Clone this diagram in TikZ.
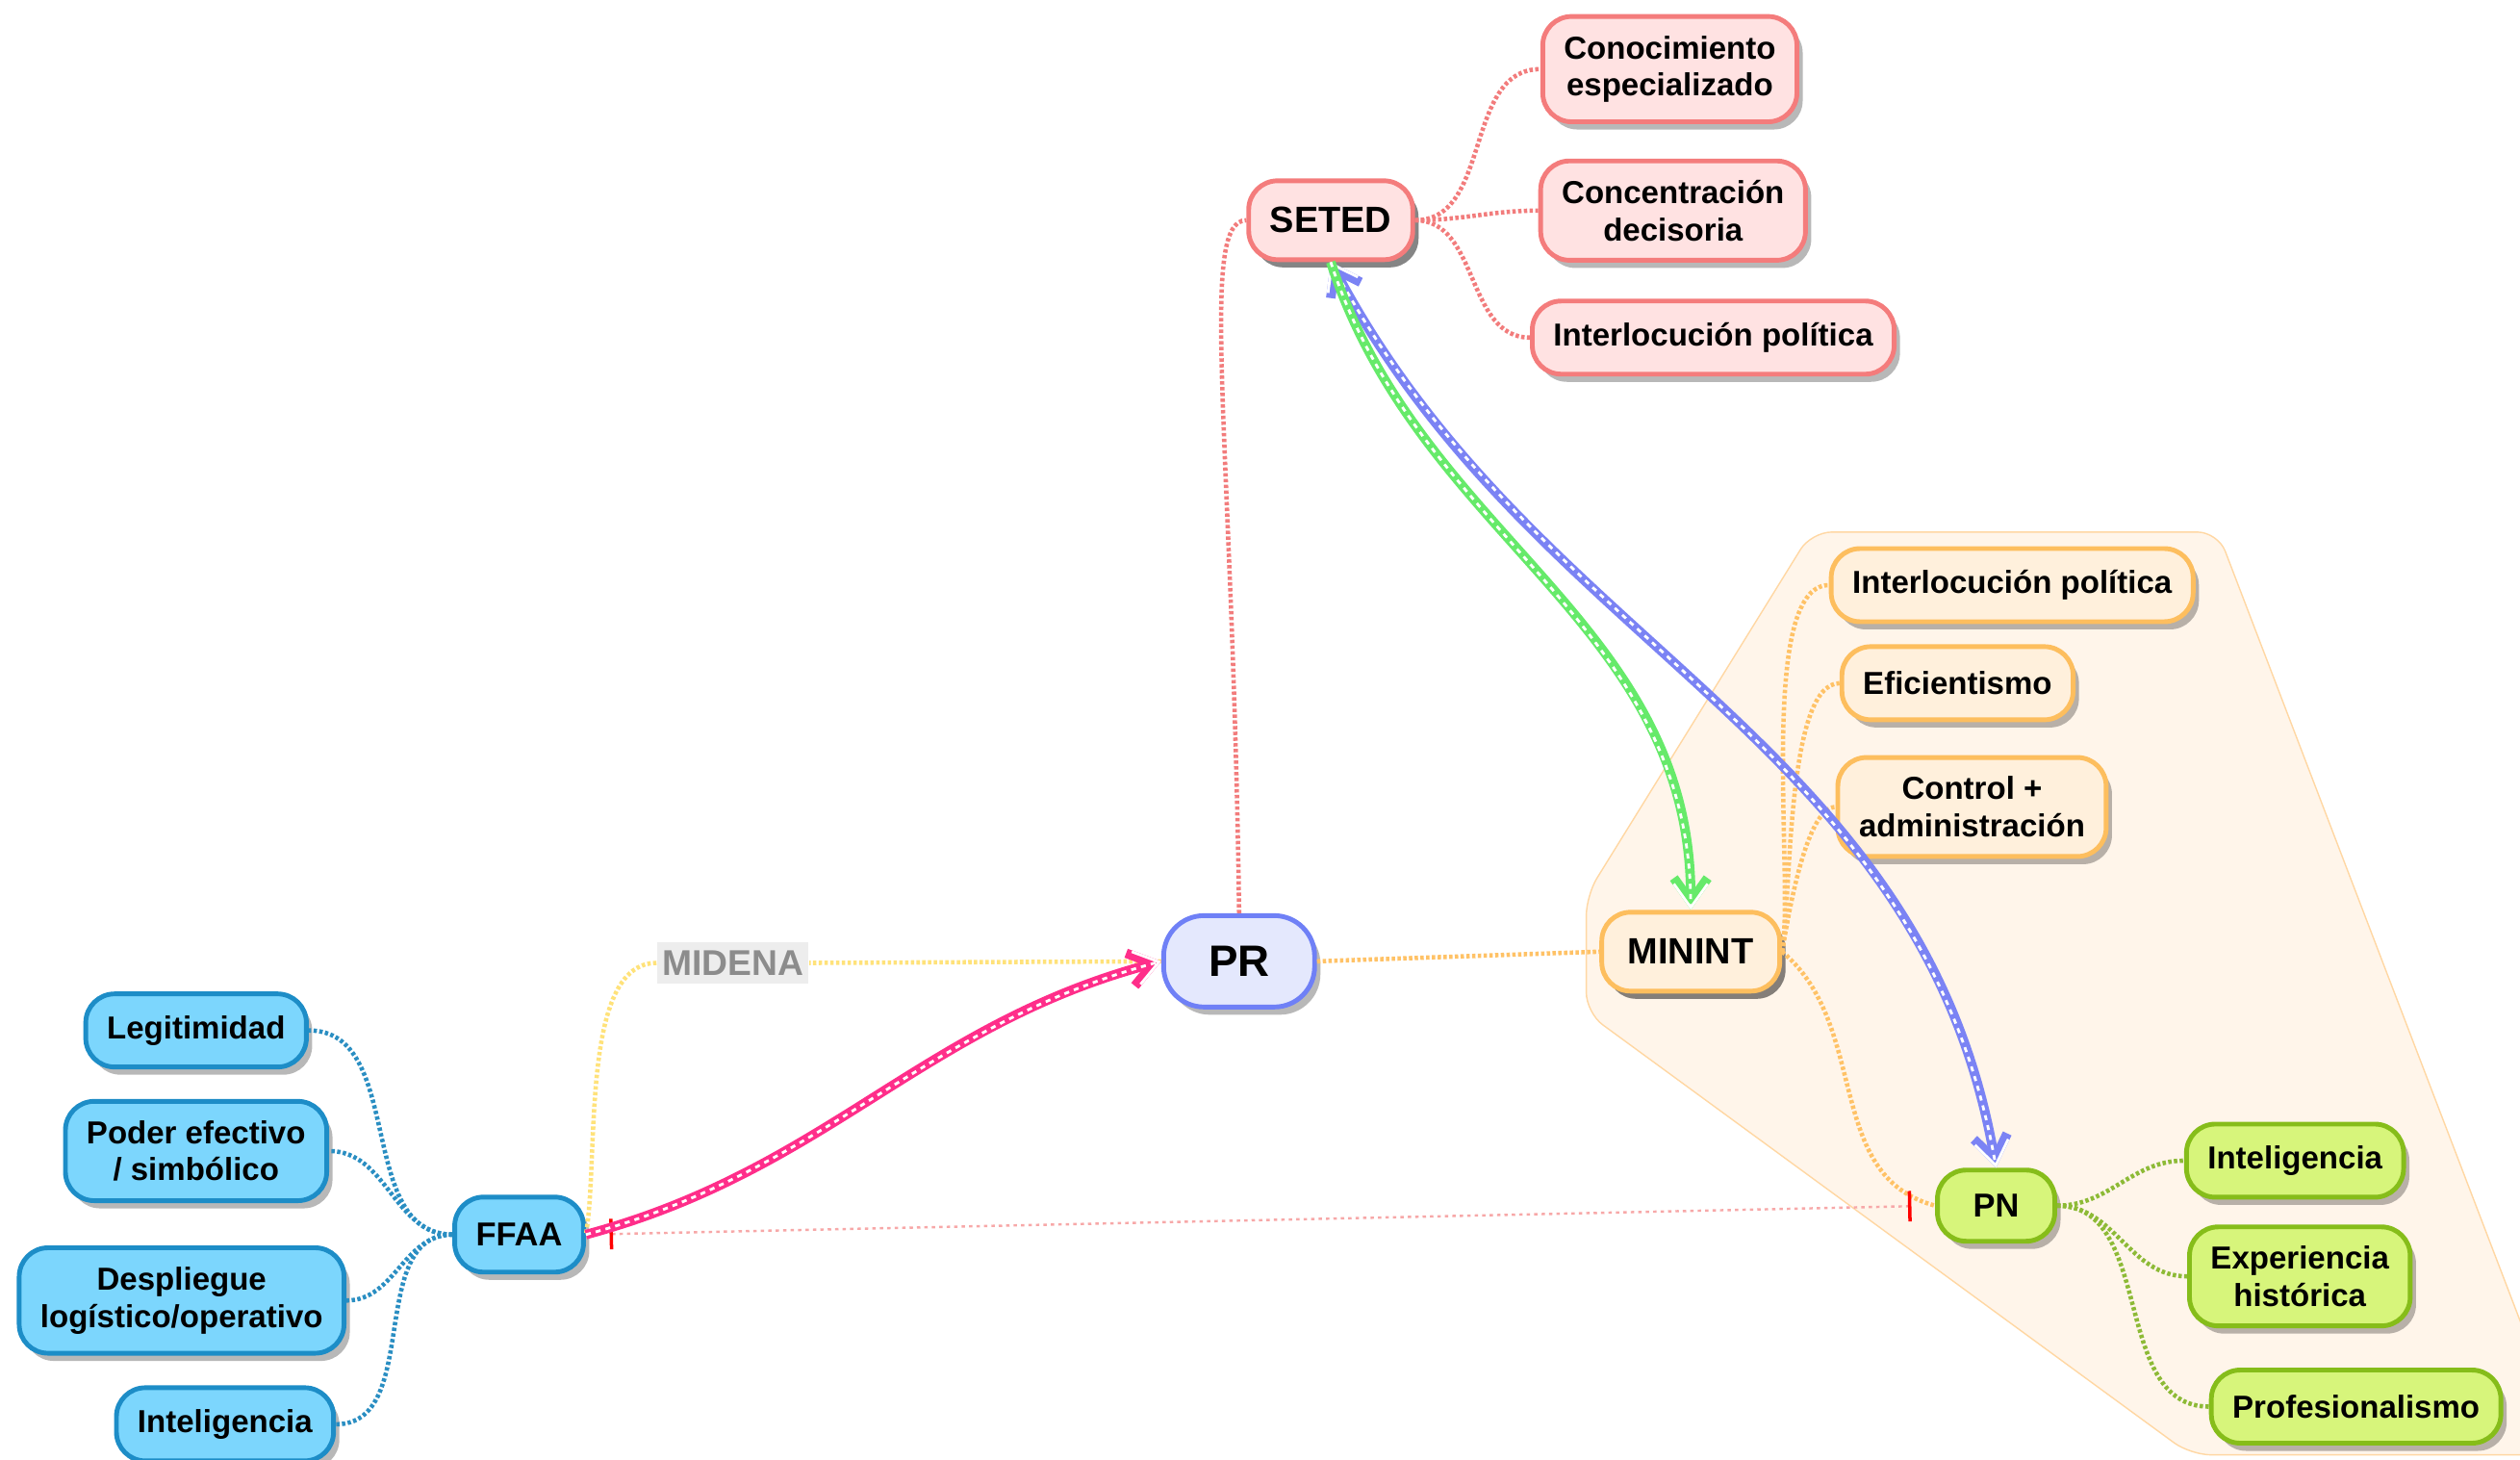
\documentclass[tikz,border=0pt]{standalone}
\usepackage{fontspec}
\setmainfont{Liberation Sans}
\usetikzlibrary{arrows.meta,shadows}
\definecolor{redline}{HTML}{F47C7C}
\definecolor{redfill}{HTML}{FFE2E2}
\definecolor{orangeline}{HTML}{FDBE5E}
\definecolor{orangefill}{HTML}{FFF0DC}
\definecolor{prline}{HTML}{6F80F6}
\definecolor{prfill}{HTML}{E4E8FD}
\definecolor{cyanline}{HTML}{1D8DC7}
\definecolor{cyanfill}{HTML}{7CD6FD}
\definecolor{greenline}{HTML}{86BD1A}
\definecolor{greenfill}{HTML}{D7F57B}
\definecolor{zonefill}{HTML}{FFF5EA}
\definecolor{zoneline}{HTML}{FFD7A3}
\definecolor{midenafill}{HTML}{EDEDED}
\definecolor{midenatext}{HTML}{8C8C8C}
\definecolor{redlink}{HTML}{F27C7C}
\definecolor{orangelink}{HTML}{FFC266}
\definecolor{yellowlink}{HTML}{FFE27A}
\definecolor{bluelink}{HTML}{2A8EC2}
\definecolor{greenlink}{HTML}{8DBA36}
\definecolor{pinkrail}{HTML}{FF2E8A}
\definecolor{greenrail}{HTML}{66EA6A}
\definecolor{bluerail}{HTML}{7B83F4}
\definecolor{tiepink}{HTML}{F7A8A8}
\tikzset{every shadow/.style={fill=black,opacity=0.28,shadow xshift=0.6mm,shadow yshift=-0.8mm}}
\tikzset{
  box/.style={draw,line width=1.4pt,rounded corners=0.3cm,align=center,
    inner xsep=0.22cm,inner ysep=0.2cm,minimum height=0.76cm,
    font=\fontsize{9.4}{11}\selectfont\bfseries,drop shadow},
  topbox/.style={box,minimum height=0.82cm,font=\fontsize{10.8}{13}\selectfont\bfseries},
  redbox/.style={box,draw=redline,fill=redfill},
  orangebox/.style={box,draw=orangeline,fill=orangefill},
  cyanbox/.style={box,draw=cyanline,fill=cyanfill},
  greenbox/.style={box,draw=greenline,fill=greenfill},
  link/.style={line width=1.3pt,dash pattern=on 1pt off 0.7pt},
  rail/.style={line width=2.8pt,postaction={draw=white,line width=0.8pt,dash pattern=on 1.5pt off 1.5pt}},
}
\begin{document}
\begin{tikzpicture}[x=0.016703cm,y=0.016703cm,>={Straight Barb[length=7pt,width=10pt]}]
\useasboundingbox (0,0) rectangle (1568,-908);
% zona MININT / PN
\begin{scope}
\clip (0,0) rectangle (1568,-908);
\filldraw[draw=zoneline,fill=zonefill,rounded corners=6pt] (987,-557) -- (1127,-331) -- (1380,-331) -- (1600,-905) -- (1363,-905) -- (987,-630) -- cycle;
\end{scope}
%
\node (seted) [redbox,topbox] at (828,-137) {SETED};
\node (conoc) [redbox] at (1039,-43) {Conocimiento\\especializado};
\node (conce) [redbox] at (1041,-131) {Concentración\\decisoria};
\node (interA) [redbox] at (1066,-210) {Interlocución política};
%
\node (pr) [box,draw=prline,fill=prfill,minimum width=1.57cm,minimum height=0.95cm,rounded corners=0.42cm,font=\fontsize{13}{15}\selectfont\bfseries] at (771,-598) {PR};
\node (midena) [fill=midenafill,text=midenatext,inner xsep=1.5pt,inner ysep=2.5pt,font=\fontsize{10.6}{12}\selectfont\bfseries] at (456,-599) {MIDENA};
%
\node (minint) [orangebox,topbox,minimum width=1.85cm] at (1052,-592) {MININT};
\node (interB) [orangebox] at (1252,-364) {Interlocución política};
\node (efic) [orangebox] at (1218,-425) {Eficientismo};
\node (contr) [orangebox] at (1227,-502) {Control +\\administración};
%
\node (pn) [greenbox,minimum width=1.22cm,minimum height=0.74cm,font=\fontsize{9.8}{11}\selectfont\bfseries] at (1242,-750) {PN};
\node (intelG) [greenbox] at (1428,-722) {Inteligencia};
\node (exper) [greenbox] at (1431,-794) {Experiencia\\histórica};
\node (profe) [greenbox] at (1466,-875) {Profesionalismo};
%
\node (ffaa) [cyanbox,minimum height=0.78cm,font=\fontsize{9.8}{11}\selectfont\bfseries] at (323,-768) {FFAA};
\node (legit) [cyanbox] at (122,-641) {Legitimidad};
\node (poder) [cyanbox] at (122,-716) {Poder efectivo\\/ simbólico};
\node (despl) [cyanbox] at (113,-809) {Despliegue\\logístico/operativo};
\node (intelB) [cyanbox] at (140,-886) {Inteligencia};
%
\draw[link,draw=redlink] (pr.north) .. controls +(-4,300) and +(-30,0) .. (seted.west);
\path[link,draw=redlink] (seted.east) edge[out=0,in=180] (conoc.west)
  edge[out=0,in=180] (conce.west) edge[out=0,in=180] (interA.west);
\path[link,draw=yellowlink] (pr.west) edge (midena.east)
  (midena.west) edge[out=180,in=80,looseness=0.7] (ffaa.east);
\path[link,draw=orangelink] (pr.east) edge (minint.west)
  (minint.east) edge[out=80,in=180,looseness=0.5] (interB.west)
  edge[out=80,in=180,looseness=0.5] (efic.west)
  edge[out=80,in=180,looseness=0.5] (contr.west)
  edge[out=-40,in=165] (pn.west);
\path[link,draw=greenlink] (pn.east) edge[out=0,in=180] (intelG.west)
  edge[out=0,in=180] (exper.west) edge[out=0,in=180] (profe.west);
\path[link,draw=bluelink] (ffaa.west) edge[out=180,in=0] (legit.east)
  edge[out=180,in=0] (poder.east) edge[out=180,in=0] (despl.east)
  edge[out=180,in=0] (intelB.east);
%
\draw[line width=0.7pt,draw=tiepink,dash pattern=on 1pt off 1.2pt,
  {Bar[width=9pt,line width=1pt,color=red]}-{Bar[width=9pt,line width=1pt,color=red]},
  shorten <=7pt,shorten >=7pt] (ffaa.east) -- (pn.west);
%
\draw[rail,draw=pinkrail,->] (ffaa.east) to[out=15,in=195] (pr.west);
\draw[rail,draw=bluerail,<->] (seted.south) to[out=-62,in=100] (pn.north);
\draw[rail,draw=greenrail,->] (seted.south) to[out=-72,in=90] (minint.north);
\end{tikzpicture}
\end{document}
